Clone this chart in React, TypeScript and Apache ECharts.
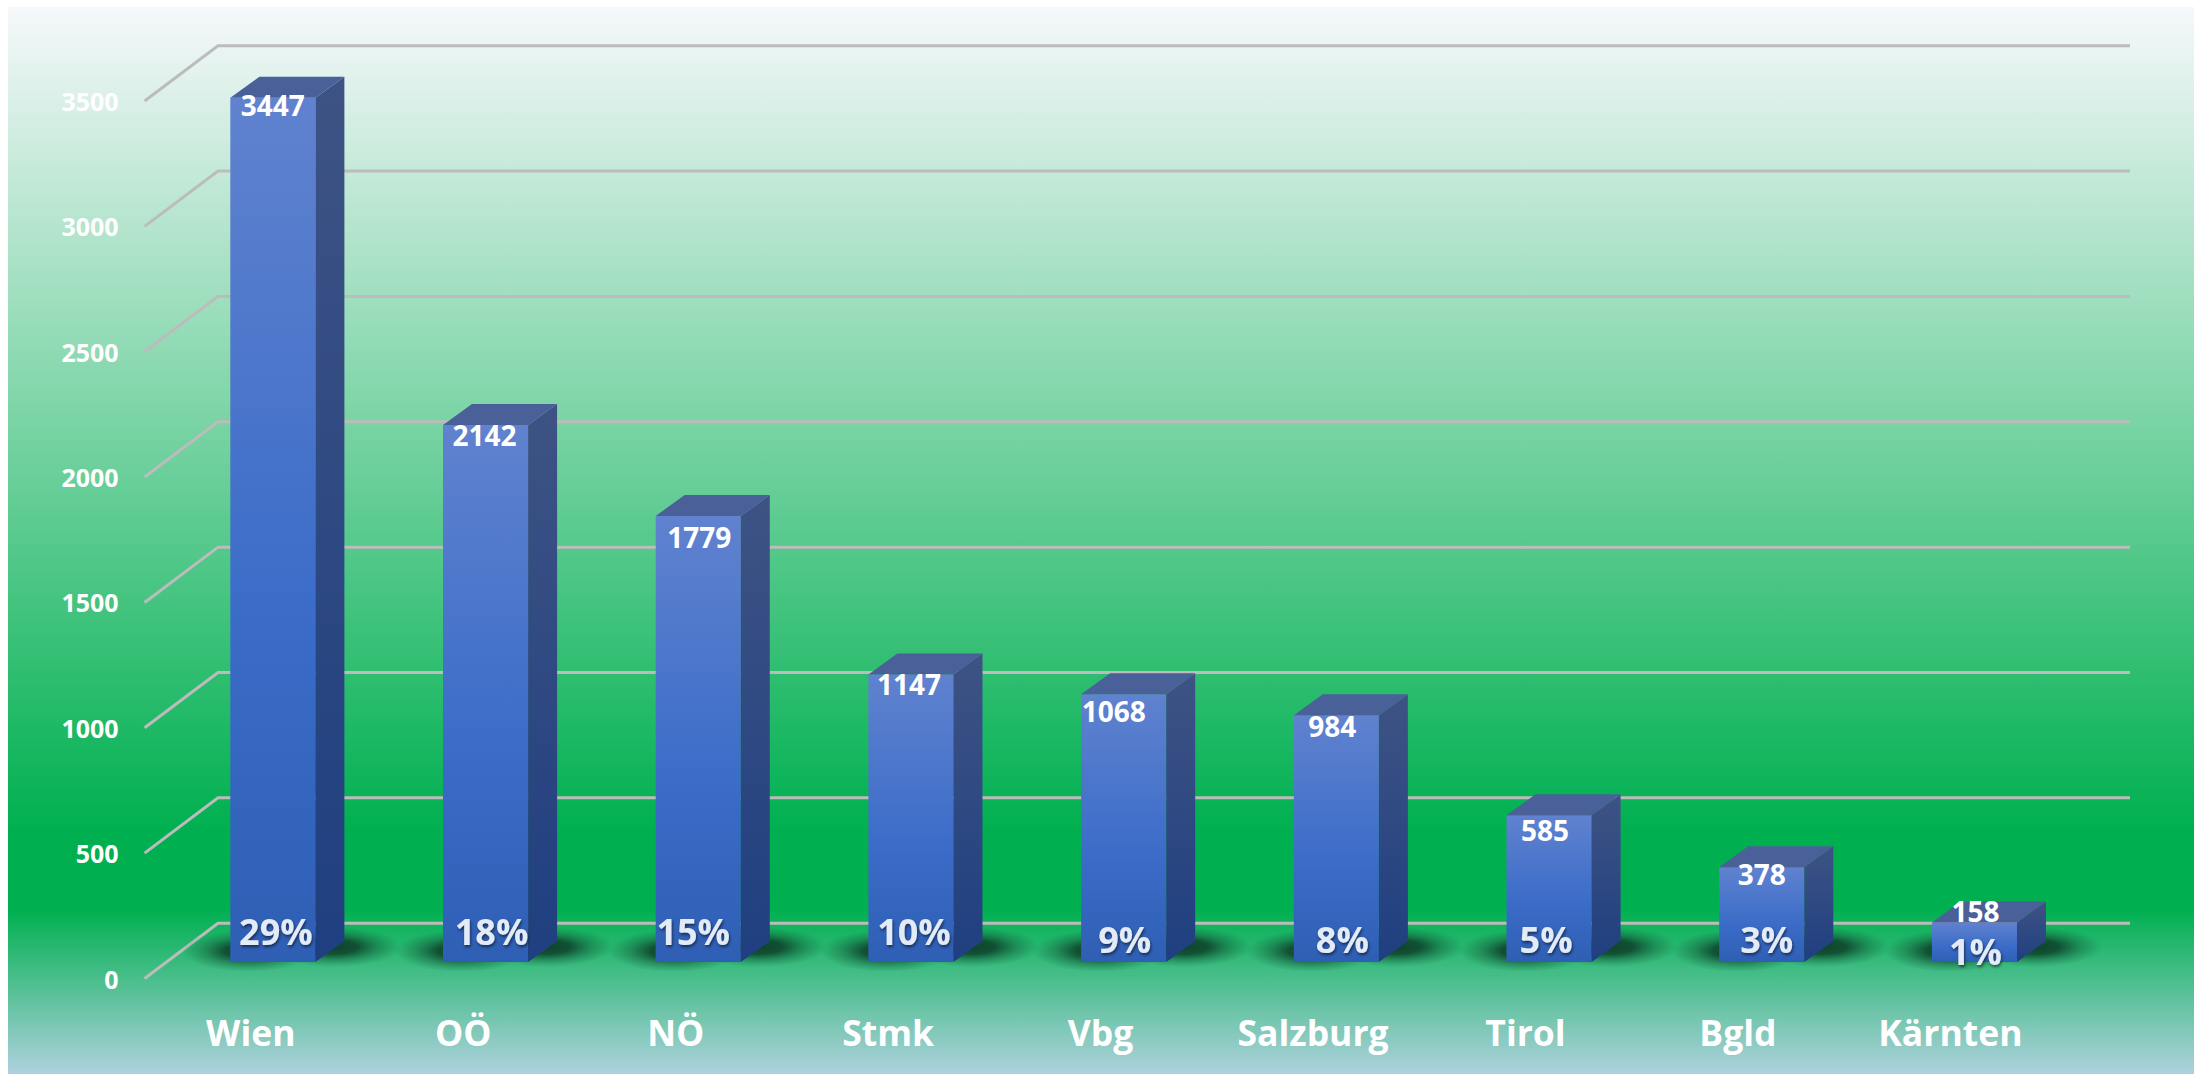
import React, { useEffect, useRef } from "react";
import * as echarts from "echarts";

const categories = ["Wien", "OÖ", "NÖ", "Stmk", "Vbg", "Salzburg", "Tirol", "Bgld", "Kärnten"];
const counts = [3447, 2142, 1779, 1147, 1068, 984, 585, 378, 158];
const percents = ["29%", "18%", "15%", "10%", "9%", "8%", "5%", "3%", "1%"];
const gridValues = [0, 500, 1000, 1500, 2000, 2500, 3000, 3500];

// hand placement of the labels inside each bar, relative to the bar
const countNudge = [[0, 7], [-1, 10], [1, 21], [-2, 10], [-10, 17], [-4, 11], [-4, 15], [0, 7], [1, -11]];
const percentNudge = [[3, -31], [6, -31], [-5, -31], [3, -31], [1, -23], [6, -23], [-3, -23], [5, -23], [1, -11]];

const FONT = "'Open Sans', 'Noto Sans', sans-serif";
const DEPTH_X = 29;
const DEPTH_Y = 21;
const WALL_X = 73.4;
const WALL_Y = 55.3;

const grad = (x2: number, y2: number, stops: [number, string][]) => ({
  type: "linear", x: 0, y: 0, x2, y2,
  colorStops: stops.map(([offset, color]) => ({ offset, color })),
});

const softShadow = {
  type: "radial", x: 0.5, y: 0.5, r: 0.5,
  colorStops: [
    { offset: 0, color: "rgba(12,58,38,0.92)" },
    { offset: 0.35, color: "rgba(12,58,38,0.82)" },
    { offset: 0.65, color: "rgba(12,70,44,0.38)" },
    { offset: 1, color: "rgba(12,90,50,0)" },
  ],
};

function renderBar(params: any, api: any) {
  const i = api.value(0);
  const v = api.value(1);
  const center = api.coord([i, v]);
  const base = api.coord([i, 0]);
  const w = api.size([1, 0])[0] * 0.4;
  const l = center[0] - w / 2;
  const r = center[0] + w / 2;
  const t = center[1];
  const b = base[1];
  const [cdx, cdy] = countNudge[i];
  const [pdx, pdy] = percentNudge[i];
  return {
    type: "group",
    children: [
      { type: "ellipse", shape: { cx: l + 18, cy: b - 11, rx: 66, ry: 21 }, style: { fill: softShadow } },
      { type: "ellipse", shape: { cx: r + 18, cy: b - 15, rx: 68, ry: 20 }, style: { fill: softShadow } },
      {
        type: "rect",
        shape: { x: l, y: t, width: w, height: b - t },
        style: { fill: grad(0, 1, [[0, "#6082cf"], [0.6, "#3a6cc8"], [1, "#2f5fb4"]]) },
      },
      {
        type: "polygon",
        shape: { points: [[r, t], [r + DEPTH_X, t - DEPTH_Y], [r + DEPTH_X, b - DEPTH_Y], [r, b]] },
        style: { fill: grad(0, 1, [[0, "#3e5384"], [1, "#1f3f80"]]) },
      },
      {
        type: "polygon",
        shape: { points: [[l, t], [l + DEPTH_X, t - DEPTH_Y], [r + DEPTH_X, t - DEPTH_Y], [r, t]] },
        style: { fill: "#4a6098" },
      },
      {
        type: "text",
        x: center[0] + cdx,
        y: t + cdy,
        style: {
          text: String(counts[i]), fill: "#ffffff", font: `700 28px ${FONT}`,
          align: "center", verticalAlign: "middle",
        },
      },
      {
        type: "text",
        x: center[0] + pdx,
        y: b + pdy,
        style: {
          text: percents[i], fill: "#e3ebf6", font: `700 36px ${FONT}`,
          align: "center", verticalAlign: "middle",
          textShadowColor: "rgba(0,0,0,0.55)", textShadowBlur: 3, textShadowOffsetX: 1, textShadowOffsetY: 2,
        },
      },
    ],
  };
}

function renderWall(params: any, api: any) {
  const p = api.coord([0, api.value(0)]);
  const left = params.coordSys.x;
  const right = params.coordSys.x + params.coordSys.width + WALL_X;
  return {
    type: "polyline",
    shape: { points: [[left, p[1]], [left + WALL_X, p[1] - WALL_Y], [right, p[1] - WALL_Y]] },
    style: { fill: "none", stroke: "#bcbcbc", lineWidth: 3 },
  };
}

export default function App() {
  const ref = useRef<HTMLDivElement>(null);
  useEffect(() => {
    const chart = echarts.init(ref.current!, undefined, { renderer: "svg" });
    chart.setOption({
      animation: false,
      backgroundColor: "#ffffff",
      graphic: [
        {
          type: "rect", z: -10, silent: true,
          shape: { x: 8, y: 7, width: 2186, height: 1067 },
          style: {
            fill: grad(0, 1, [
              [0, "#f6f8fb"], [0.771, "#00b050"], [0.846, "#00b050"], [1, "#afd1de"],
            ]),
          },
        },
      ],
      grid: [
        { left: 144.6, top: 101, width: 1912, height: 877.5 },
        { left: 166.5, top: 84.5, width: 1914.3, height: 877.5 },
      ],
      xAxis: [
        {
          type: "category", gridIndex: 0, data: categories,
          axisLine: { show: false }, axisTick: { show: false }, splitLine: { show: false },
          axisLabel: { color: "#ffffff", fontFamily: FONT, fontWeight: 700, fontSize: 35.5, margin: 35 },
        },
        {
          type: "category", gridIndex: 1, data: categories, show: false,
        },
      ],
      yAxis: [
        {
          type: "value", gridIndex: 0, min: 0, max: 3500, interval: 500,
          axisLine: { show: false }, axisTick: { show: false }, splitLine: { show: false },
          axisLabel: {
            color: "#ffffff", fontFamily: FONT, fontWeight: 700, fontSize: 25, margin: 26,
            formatter: (v: number) => String(v),
          },
        },
        {
          type: "value", gridIndex: 1, min: 0, max: 3500, interval: 500, show: false,
          splitLine: { show: false },
        },
      ],
      series: [
        {
          type: "custom", xAxisIndex: 0, yAxisIndex: 0, renderItem: renderWall, clip: false, z: 1,
          data: gridValues.map((v) => [v]), encode: { y: 0 },
        },
        {
          type: "custom", xAxisIndex: 1, yAxisIndex: 1, renderItem: renderBar, clip: false, z: 2,
          data: counts.map((v, i) => [i, v]), encode: { x: 0, y: 1 },
        },
      ],
    });
    return () => chart.dispose();
  }, []);
  return <div ref={ref} style={{ position: "fixed", left: 0, top: 0, width: 2194, height: 1074 }} />;
}
